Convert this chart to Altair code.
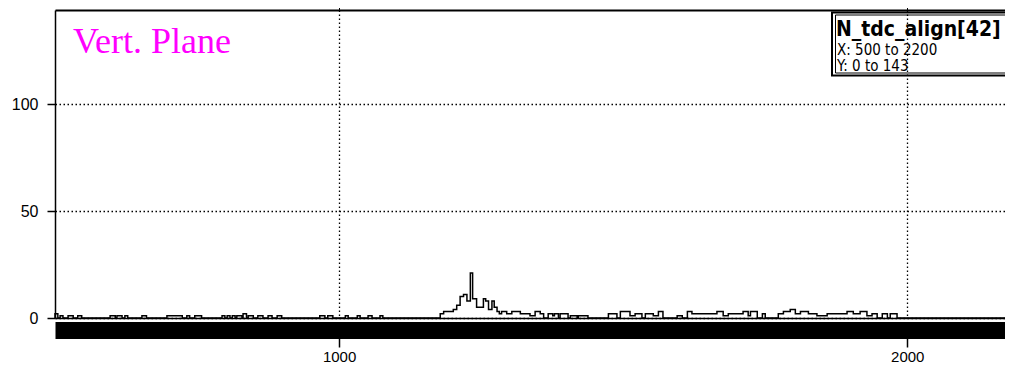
import altair as alt
import pandas as pd

# ---- data: histogram segments (start, end, count) ----
seg_lo = [500, 509, 523, 540, 597, 609, 623, 653, 697, 732, 746, 794, 803, 812, 820, 831, 840, 857, 875, 891,
          966, 980, 1011, 1032, 1051, 1072,
          1178, 1184, 1201, 1207, 1213, 1219, 1225, 1231, 1235, 1242, 1254, 1258, 1263, 1269, 1273, 1278, 1282,
          1286, 1295, 1304, 1310, 1319, 1336, 1345, 1354,
          1368, 1376, 1379, 1389, 1407, 1421,
          1474, 1495, 1512, 1521, 1539, 1553, 1562,
          1595, 1613, 1621, 1639, 1653, 1665, 1676, 1685, 1700, 1711, 1720, 1724,
          1745, 1773, 1782, 1794, 1803, 1812, 1826, 1841, 1859, 1877, 1894, 1905, 1917, 1929, 1938, 1956, 1970]
seg_hi = [505, 514, 532, 547, 606, 618, 628, 661, 724, 737, 758, 799, 808, 817, 829, 837, 849, 866, 882, 899,
          975, 989, 1016, 1037, 1058, 1077,
          1184, 1201, 1207, 1213, 1219, 1225, 1231, 1235, 1242, 1254, 1258, 1263, 1269, 1273, 1278, 1282, 1286,
          1295, 1304, 1310, 1319, 1336, 1345, 1354, 1360,
          1376, 1379, 1386, 1403, 1419, 1438,
          1489, 1512, 1521, 1533, 1553, 1562, 1570,
          1604, 1621, 1639, 1653, 1665, 1676, 1685, 1700, 1711, 1720, 1724, 1736,
          1750, 1782, 1794, 1803, 1812, 1826, 1841, 1859, 1877, 1894, 1905, 1917, 1929, 1938, 1947, 1965, 1982]
seg_n = [2, 1, 1, 1, 1, 1, 1, 1, 1, 1, 1, 1, 1, 1, 1, 2, 1, 1, 1, 1,
         1, 1, 1, 1, 1, 1,
         2, 3, 4, 6, 10, 11, 8, 21, 9, 5, 9, 8, 4, 8, 5, 3, 2,
         3, 2, 3, 3, 2, 1, 3, 2,
         2, 1, 2, 2, 1, 1,
         2, 3, 1, 2, 2, 1, 3,
         1, 3, 2, 2, 2, 3, 1, 2, 2, 3, 1, 3,
         2, 2, 3, 4, 2, 3, 2, 1, 2, 2, 3, 2, 3, 1, 2, 2, 2]

x_ticks = [1000, 2000]
y_ticks = [0, 50, 100]
x_range = [500, 2172]
y_range = [0, 144]
plane_label = ["Vert. Plane"]
hist_name = ["N_tdc_align[42]"]
stat_lines = ["X: 500 to 2200", "Y: 0 to 143"]

# ---- build the step outline from the segments ----
pts = [(x_range[0], 0)]
level, cur = 0, x_range[0]
for lo, hi, n in zip(seg_lo, seg_hi, seg_n):
    if lo > cur and level != 0:
        pts.append((cur, 0))
        level = 0
    pts.append((lo, level))
    pts.append((lo, n))
    pts.append((hi, n))
    level, cur = n, hi
pts.append((cur, 0))
pts.append((x_range[1], 0))
df = pd.DataFrame({"x": [p[0] for p in pts], "y": [p[1] for p in pts], "i": list(range(len(pts)))})

AX_FONT = "Liberation Sans"
COND = "DejaVu Sans Condensed"
xscale = alt.Scale(domain=x_range, nice=False, zero=False)
yscale = alt.Scale(domain=y_range, nice=False, zero=False)

hist = alt.Chart(df).mark_line(color="black", strokeWidth=1.5, interpolate="linear").encode(
    x=alt.X("x:Q", scale=xscale, axis=alt.Axis(
        orient="bottom", values=x_ticks, grid=True, gridDash=[1.5, 2.5], gridColor="black", gridWidth=1.3,
        gridOpacity=1, labels=False, ticks=False, domain=True, domainColor="black", domainWidth=1.5,
        title=None)),
    y=alt.Y("y:Q", scale=yscale, axis=alt.Axis(
        orient="left", values=y_ticks, grid=True, gridDash=[1.5, 2.5], gridColor="black", gridWidth=1.3,
        gridOpacity=1, tickSize=8, tickColor="black", tickWidth=1.5, labelFont=AX_FONT, labelFontSize=16,
        labelColor="black", labelPadding=9, domainColor="black", domainWidth=1.5, format="d", title=None)),
    order=alt.Order("i:Q"),
)

band = alt.Chart(df).mark_point(opacity=0).encode(
    x=alt.X("x:Q", scale=xscale, axis=alt.Axis(
        orient="bottom", offset=12, values=x_ticks, grid=False, domain=True, domainColor="black",
        domainWidth=17, ticks=True, tickSize=17, tickColor="black", tickWidth=1.5,
        labels=True, labelFont=AX_FONT, labelFontSize=15, labelColor="black", labelPadding=2,
        format="d", title=None)),
    y=alt.Y("y:Q", scale=yscale, axis=None),
)

top = alt.Chart(df).mark_point(opacity=0).encode(
    x=alt.X("x:Q", scale=xscale, axis=alt.Axis(
        orient="top", values=x_ticks, grid=False, domain=True, domainColor="black", domainWidth=2,
        ticks=True, tickSize=8, tickColor="black", labels=False, title=None)),
    y=alt.Y("y:Q", scale=yscale, axis=None),
)

plane = alt.Chart(pd.DataFrame({"t": plane_label})).mark_text(
    align="left", baseline="alphabetic", font="Liberation Serif", fontSize=36, color="#FF00FF"
).encode(text="t:N", x=alt.value(18), y=alt.value(43))

box_outer = alt.Chart(pd.DataFrame({"t": hist_name})).mark_rect(
    fill=None, fillOpacity=0, stroke="black", strokeWidth=2
).encode(x=alt.value(777), x2=alt.value(990), y=alt.value(2.5), y2=alt.value(65.5))

box_inner = alt.Chart(pd.DataFrame({"t": hist_name})).mark_rect(
    fill=None, fillOpacity=0, stroke="black", strokeWidth=1
).encode(x=alt.value(780.5), x2=alt.value(990), y=alt.value(5), y2=alt.value(63))

name_text = alt.Chart(pd.DataFrame({"t": hist_name})).mark_text(
    align="left", baseline="alphabetic", font=COND, fontWeight="bold", fontSize=21, color="black"
).encode(text="t:N", x=alt.value(781), y=alt.value(26))

stat1 = alt.Chart(pd.DataFrame({"t": stat_lines[:1]})).mark_text(
    align="left", baseline="alphabetic", font=COND, fontSize=15, color="black"
).encode(text="t:N", x=alt.value(782), y=alt.value(45))
stat2 = alt.Chart(pd.DataFrame({"t": stat_lines[1:]})).mark_text(
    align="left", baseline="alphabetic", font=COND, fontSize=15, color="black"
).encode(text="t:N", x=alt.value(782), y=alt.value(61))

chart = alt.layer(hist, band, top, plane, box_outer, box_inner, name_text, stat1, stat2).resolve_axis(
    x="independent", y="independent"
).properties(
    width=950, height=308,
    autosize=alt.AutoSizeParams(type="none"),
    padding={"left": 47, "top": 2, "right": 0, "bottom": 47},
    background="white",
).configure_view(stroke=None)

chart.save("out.html", embed_options={"renderer": "svg", "actions": False})
